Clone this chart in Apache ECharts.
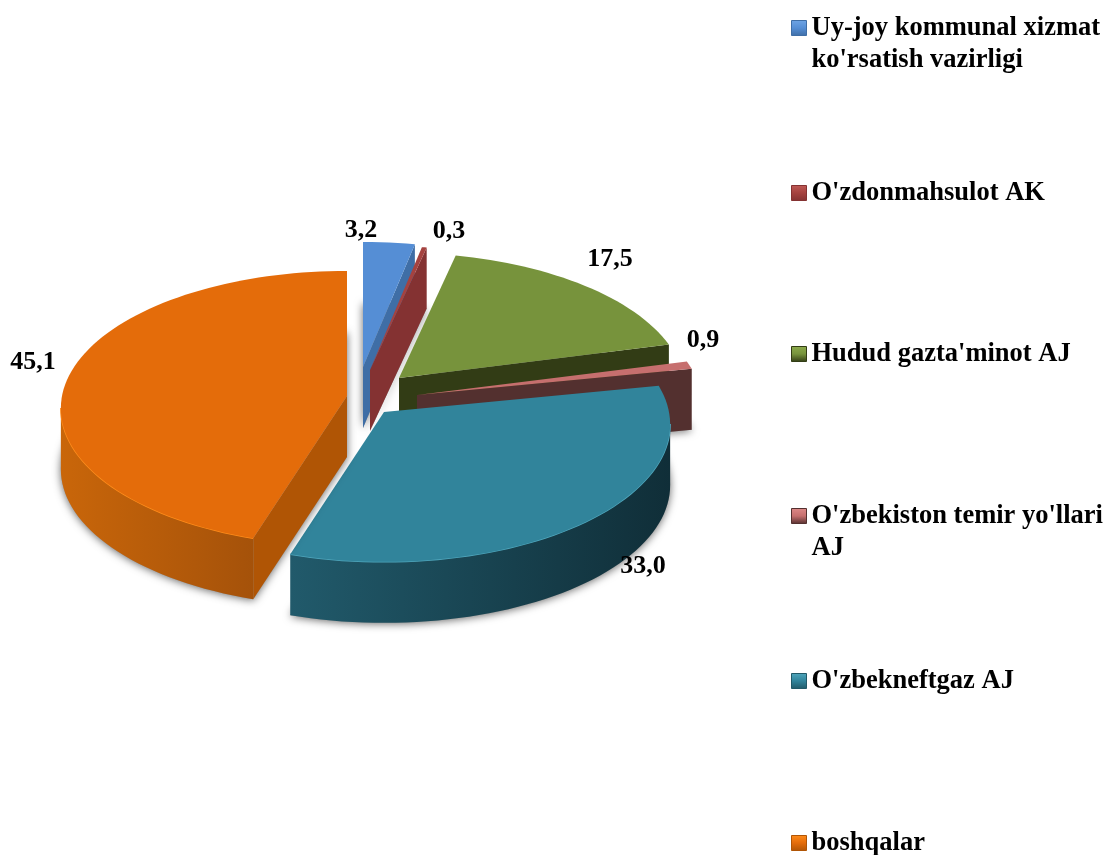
<!DOCTYPE html>
<html>
<head>
<meta charset="utf-8">
<style>html,body{margin:0;padding:0;background:#fff}#chart{width:1108px;height:855px}</style>
<script src="https://cdn.jsdelivr.net/npm/echarts@6/dist/echarts.min.js"></script>
</head>
<body>
<div id="chart"></div>
<script>
// chart data
const categories = ["Uy-joy kommunal xizmat\nko'rsatish vazirligi", "O'zdonmahsulot AK", "Hudud gazta'minot AJ", "O'zbekiston temir yo'llari\nAJ", "O'zbekneftgaz AJ", "boshqalar"];
const values = [3.2, 0.3, 17.5, 0.9, 33.0, 45.1];

// colours per slice
const topColors = ['#558ed5', '#a5423f', '#77933c', '#c66f6e', '#31849b', '#e46c0a'];
const edgeColors = ['#3f6ea6', '#843232', '#323c15', '#53302f', '#215968', '#b05505'];
const rimLeft = ['#3f6ea6', '#843232', '#323c15', '#53302f', '#215a6b', '#c9660a'];
const rimRight = ['#3f6ea6', '#843232', '#323c15', '#53302f', '#102e38', '#a5520a'];
const highlight = ['#6fa5e5', '#c05a56', '#8dab4c', '#dd8a88', '#4fa6bc', '#ff8c1a'];

// layout of the tilted pie
const pieCenter = [375, 390];
const explode = [[-12, -23], [-5, -20], [24, -12], [42, 5], [9, 22], [-28, 6]];
const labelPos = [[361, 230], [449, 231], [610, 259], [703, 340], [643, 566], [33, 362]];
const legendTop = [25, 190, 351, 513, 678, 840];
const rx = 285, ry = 137.5, depth = 61, persp = 0.09;
const font = 'bold 26px "Liberation Serif"';

const total = values.reduce((a, b) => a + b, 0);
let starts = [], run = 0;
for (let i = 0; i < values.length; i++) {
    starts.push(run);
    run += values[i] / total * 360;
}

function rad(d) { return d * Math.PI / 180; }

// point on the rim at angle deg (clockwise from the top), h pixels down
function rimPt(o, deg, h) {
    let s = Math.sin(rad(deg)), c = Math.cos(rad(deg));
    let p = 1 - persp * c;
    return [o[0] + rx * s * p, o[1] - ry * c * p + h];
}

function arc(o, a, b, h) {
    let pts = [], n = Math.max(2, Math.ceil((b - a) / 2));
    for (let i = 0; i <= n; i++) {
        pts.push(rimPt(o, a + (b - a) * i / n, h));
    }
    return pts;
}

function down(p, h) { return [p[0], p[1] + h]; }

function renderSlice(i, api) {
    let v = api.value(0);
    let a = starts[i], b = a + v / total * 360;
    let o = [pieCenter[0] + explode[i][0], pieCenter[1] + explode[i][1]];
    let kids = [];
    let topArc = arc(o, a, b, 0);

    // soft shadow under the block
    kids.push({
        type: 'polygon',
        shape: { points: [down(o, depth)].concat(arc(o, a, b, depth)) },
        style: { fill: '#999', shadowBlur: 8, shadowColor: 'rgba(0,0,0,0.6)', shadowOffsetY: 1 }
    });

    // straight cut walls
    if (a > 180) {
        let e = rimPt(o, a, 0);
        kids.push({ type: 'polygon', shape: { points: [o, e, down(e, depth), down(o, depth)] }, style: { fill: edgeColors[i] } });
    }
    if (b < 180) {
        let e = rimPt(o, b, 0);
        kids.push({ type: 'polygon', shape: { points: [o, e, down(e, depth), down(o, depth)] }, style: { fill: edgeColors[i] } });
    }

    // outer wall, front part only
    let from = Math.max(a, 95), to = Math.min(b, 265);
    if (to > from) {
        let pts = arc(o, from, to, 0).concat(arc(o, from, to, depth).reverse());
        // the walls fade along the rim, so the left and right ends take their own colour
        kids.push({
            type: 'polygon',
            shape: { points: pts },
            style: {
                fill: {
                    type: 'linear', x: 0, y: 0, x2: 1, y2: 0,
                    colorStops: [
                        { offset: 0, color: rimLeft[i] },
                        { offset: 1, color: rimRight[i] }
                    ]
                }
            }
        });
        // light line along the top edge
        kids.push({
            type: 'polyline',
            shape: { points: pts.slice(0, pts.length / 2) },
            style: { fill: null, stroke: highlight[i], lineWidth: 1.5 }
        });
    }

    kids.push({
        type: 'polygon',
        shape: { points: [o].concat(topArc) },
        style: { fill: topColors[i] }
    });

    kids.push({
        type: 'text',
        x: labelPos[i][0], y: labelPos[i][1],
        style: {
            text: v.toFixed(1).replace('.', ','),
            font: font, fill: '#000', align: 'center', verticalAlign: 'middle'
        }
    });

    return { type: 'group', children: kids };
}

let series = [], legends = [];
for (let i = 0; i < categories.length; i++) {
    series.push({
        type: 'custom',
        name: categories[i],
        coordinateSystem: 'none',
        silent: true,
        itemStyle: { color: topColors[i] },
        data: [[values[i]]],
        renderItem: function (params, api) { return renderSlice(i, api); }
    });
    let twoLines = categories[i].indexOf('\n') >= 0;
    legends.push({
        data: [categories[i]],
        orient: 'vertical',
        left: 791,
        top: legendTop[i] - (twoLines ? 48 : 16),
        padding: 0,
        icon: 'rect',
        itemWidth: 15,
        itemHeight: 15,
        selectedMode: false,
        itemStyle: {
            color: {
                type: 'linear', x: 0, y: 0, x2: 0, y2: 1,
                colorStops: [
                    { offset: 0, color: highlight[i] },
                    { offset: 0.5, color: topColors[i] },
                    { offset: 1, color: edgeColors[i] }
                ]
            },
            borderColor: edgeColors[i],
            borderWidth: 1
        },
        // blank first line keeps the marker level with the name's first line
        formatter: function (n) { return n.indexOf('\n') >= 0 ? ' \n' + n : n; },
        textStyle: { fontFamily: 'Liberation Serif', fontWeight: 'bold', fontSize: 26.5, lineHeight: 32, color: '#000', padding: [6, 0, 0, 0] }
    });
}

let chart = echarts.init(document.getElementById('chart'));
chart.setOption({
    animation: false,
    backgroundColor: '#fff',
    legend: legends,
    series: series
});
</script>
</body>
</html>
